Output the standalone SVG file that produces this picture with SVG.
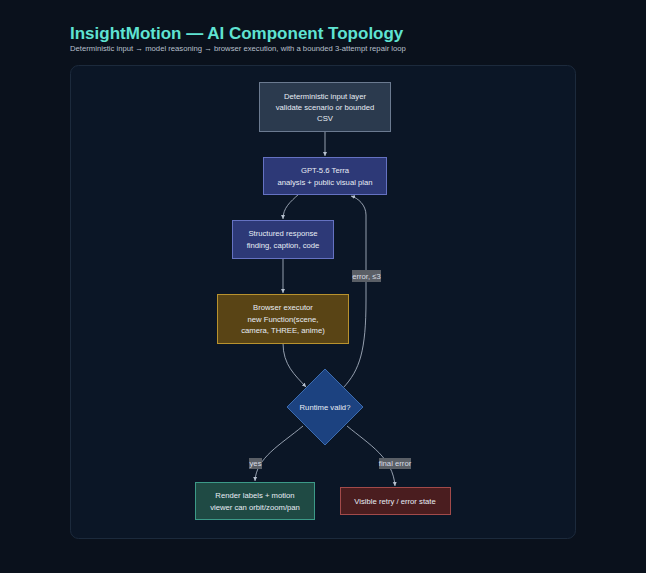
<svg xmlns="http://www.w3.org/2000/svg" width="646" height="573" viewBox="0 0 646 573">
<style>
text{font-family:"Liberation Sans",Arial,sans-serif}
.t{font-size:7.7px;fill:#e8edf5;text-anchor:middle}
.e{fill:none;stroke:#b8c2d0;stroke-width:0.8}
.lb{fill:#5a5f66}
.lt{font-size:7.7px;fill:#d8dde4;text-anchor:middle}
</style>
<defs><marker id="a" markerWidth="6" markerHeight="6" refX="5" refY="3" orient="auto"><path d="M0,0.5L5,3L0,5.5z" fill="#b8c2d0"/></marker></defs>
<rect width="646" height="573" fill="#0a111c"/>
<text x="70" y="39" font-size="17" font-weight="bold" fill="#5fe3d2">InsightMotion — AI Component Topology</text>
<text x="70" y="51" font-size="7.7" fill="#b8c0cc">Deterministic input → model reasoning → browser execution, with a bounded 3-attempt repair loop</text>
<rect x="70.5" y="65.5" width="505" height="473" rx="8" fill="#0b1626" stroke="#1c2a3c"/>
<g id="edges">
<path class="e" d="M325,131V156" marker-end="url(#a)"/>
<path class="e" d="M299,194C290,202 283,208 283,219" marker-end="url(#a)"/>
<path class="e" d="M283,258V293" marker-end="url(#a)"/>
<path class="e" d="M283,343C283,365 295,375 306,387" marker-end="url(#a)"/>
<path class="e" d="M343,388C360,370 366,350 366,300V215C366,205 358,198 351,196" marker-end="url(#a)"/>
<path class="e" d="M303,426C280,445 256,458 255,481" marker-end="url(#a)"/>
<path class="e" d="M347,426C370,445 393,458 395,486" marker-end="url(#a)"/>
<rect class="lb" x="352" y="270" width="29" height="12"/><text class="lt" x="366.5" y="279">error, ≤3</text>
<rect class="lb" x="249" y="458" width="13" height="11"/><text class="lt" x="255.5" y="466">yes</text>
<rect class="lb" x="379" y="458" width="32" height="11"/><text class="lt" x="395" y="466">final error</text>
</g>
<g id="n1"><rect x="259.5" y="82.5" width="131" height="49" fill="#2b3a4e" stroke="#6b7a90"/>
<text class="t" x="325" y="99">Deterministic input layer</text><text class="t" x="325" y="110">validate scenario or bounded</text><text class="t" x="325" y="121">CSV</text></g>
<g id="n2"><rect x="263.5" y="157.5" width="123" height="37" fill="#2d3977" stroke="#6572c2"/>
<text class="t" x="325" y="173">GPT-5.6 Terra</text><text class="t" x="325" y="185">analysis + public visual plan</text></g>
<g id="n3"><rect x="232.5" y="220.5" width="101" height="38" fill="#2d3977" stroke="#6572c2"/>
<text class="t" x="283" y="236">Structured response</text><text class="t" x="283" y="248">finding, caption, code</text></g>
<g id="n4"><rect x="217.5" y="294.5" width="131" height="49" fill="#594415" stroke="#b8922e"/>
<text class="t" x="283" y="310">Browser executor</text><text class="t" x="283" y="322">new Function(scene,</text><text class="t" x="283" y="333">camera, THREE, anime)</text></g>
<g id="n5"><path d="M325,369L363,407L325,445L287,407z" fill="#1c4280" stroke="#3c6cb0"/>
<text class="t" x="325" y="410">Runtime valid?</text></g>
<g id="n6"><rect x="195.5" y="482.5" width="119" height="37" fill="#1f4a44" stroke="#3c9a88"/>
<text class="t" x="255" y="498">Render labels + motion</text><text class="t" x="255" y="510">viewer can orbit/zoom/pan</text></g>
<g id="n7"><rect x="340.5" y="487.5" width="110" height="27" fill="#4a1d1f" stroke="#a24a4a"/>
<text class="t" x="395" y="504">Visible retry / error state</text></g>
</svg>
